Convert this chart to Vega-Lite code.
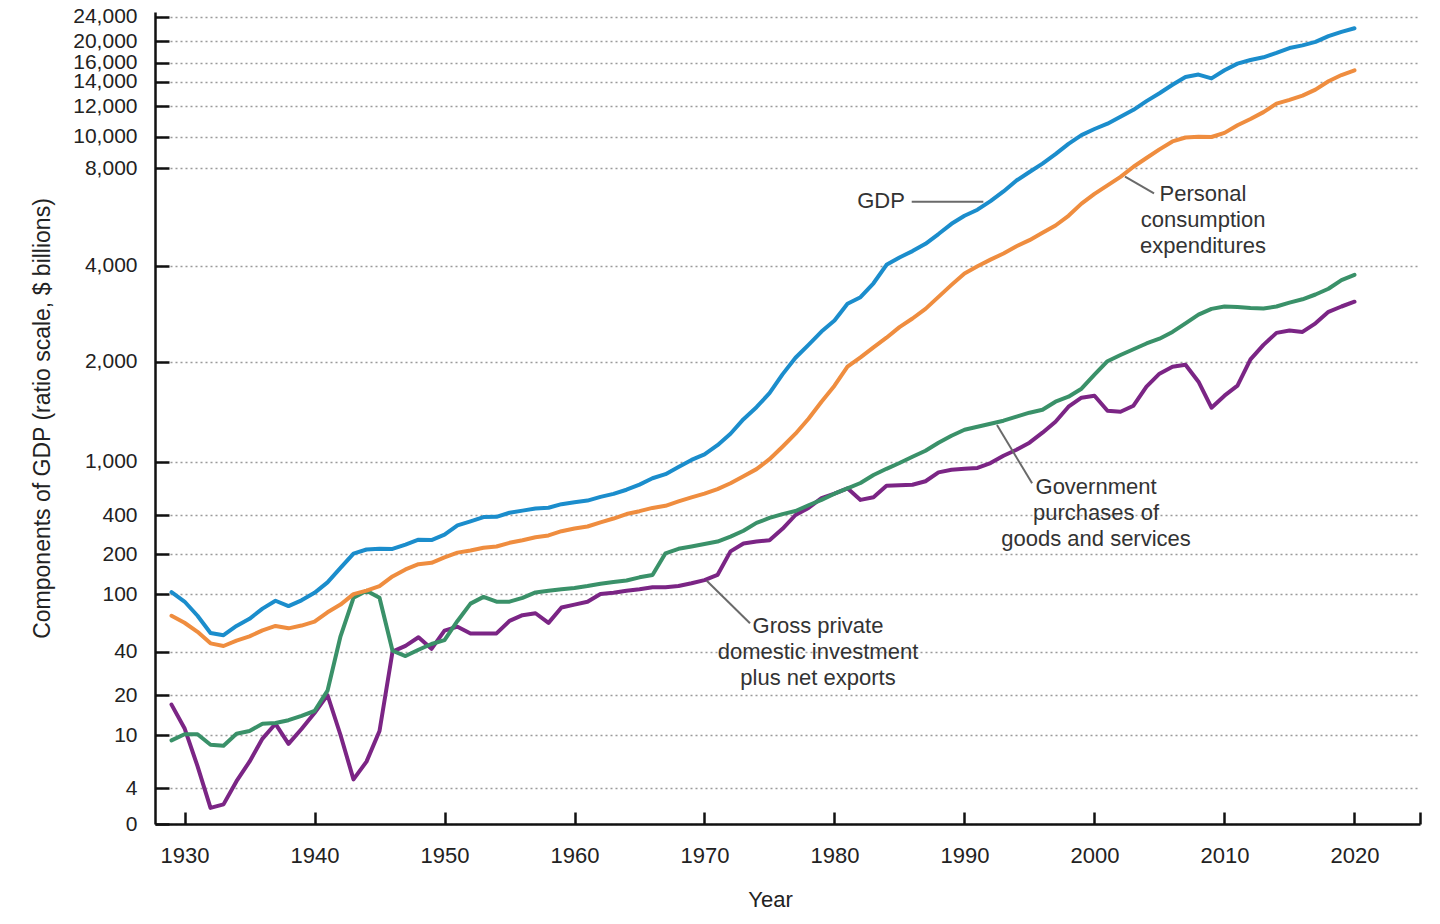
{
  "$schema": "https://vega.github.io/schema/vega-lite/v6.json",
  "autosize": {"type": "none"},
  "width": 1265,
  "height": 812,
  "padding": {"left": 155, "top": 12, "right": 20, "bottom": 100},
  "background": "white",
  "config": {"view": {"stroke": null}, "font": "Liberation Sans"},
  "datasets": {
    "gdp": [
      {"year":1929,"value":104.6},{"year":1930,"value":92.2},{"year":1931,"value":77.4},{"year":1932,"value":59.5},{"year":1933,"value":57.2},{"year":1934,"value":66.8},{"year":1935,"value":74.2},{"year":1936,"value":84.8},{"year":1937,"value":93.0},{"year":1938,"value":87.4},{"year":1939,"value":93.4},{"year":1940,"value":102.9},{"year":1941,"value":129.3},{"year":1942,"value":166.0},{"year":1943,"value":203.1},{"year":1944,"value":224.4},{"year":1945,"value":228.0},{"year":1946,"value":227.5},{"year":1947,"value":249.6},{"year":1948,"value":274.5},{"year":1949,"value":272.5},{"year":1950,"value":299.8},{"year":1951,"value":346.9},{"year":1952,"value":367.3},{"year":1953,"value":389.2},{"year":1954,"value":390.5},{"year":1955,"value":425.5},{"year":1956,"value":449.4},{"year":1957,"value":474.0},{"year":1958,"value":481.2},{"year":1959,"value":521.7},{"year":1960,"value":542.4},{"year":1961,"value":562.2},{"year":1962,"value":603.9},{"year":1963,"value":637.5},{"year":1964,"value":684.5},{"year":1965,"value":742.3},{"year":1966,"value":813.4},{"year":1967,"value":860.0},{"year":1968,"value":940.7},{"year":1969,"value":1017.6},{"year":1970,"value":1073.3},{"year":1971,"value":1164.9},{"year":1972,"value":1279.1},{"year":1973,"value":1425.4},{"year":1974,"value":1545.2},{"year":1975,"value":1684.9},{"year":1976,"value":1873.4},{"year":1977,"value":2081.8},{"year":1978,"value":2351.6},{"year":1979,"value":2627.3},{"year":1980,"value":2857.3},{"year":1981,"value":3207.0},{"year":1982,"value":3343.8},{"year":1983,"value":3634.0},{"year":1984,"value":4037.6},{"year":1985,"value":4339.0},{"year":1986,"value":4600},{"year":1987,"value":4900},{"year":1988,"value":5300},{"year":1989,"value":5720},{"year":1990,"value":6050},{"year":1991,"value":6300},{"year":1992,"value":6650},{"year":1993,"value":7050},{"year":1994,"value":7500},{"year":1995,"value":7850},{"year":1996,"value":8300},{"year":1997,"value":8900},{"year":1998,"value":9550},{"year":1999,"value":10100},{"year":2000,"value":10500},{"year":2001,"value":10850},{"year":2002,"value":11300},{"year":2003,"value":11750},{"year":2004,"value":12400},{"year":2005,"value":13050},{"year":2006,"value":13750},{"year":2007,"value":14500},{"year":2008,"value":14750},{"year":2009,"value":14350},{"year":2010,"value":15200},{"year":2011,"value":15900},{"year":2012,"value":16500},{"year":2013,"value":17000},{"year":2014,"value":17800},{"year":2015,"value":18700},{"year":2016,"value":19200},{"year":2017,"value":19850},{"year":2018,"value":20800},{"year":2019,"value":21500},{"year":2020,"value":22100}
    ],
    "pce": [
      {"year":1929,"value":77.4},{"year":1930,"value":70.1},{"year":1931,"value":60.7},{"year":1932,"value":48.7},{"year":1933,"value":45.9},{"year":1934,"value":51.5},{"year":1935,"value":55.9},{"year":1936,"value":62.2},{"year":1937,"value":66.8},{"year":1938,"value":64.3},{"year":1939,"value":67.2},{"year":1940,"value":71.2},{"year":1941,"value":81.0},{"year":1942,"value":89.0},{"year":1943,"value":99.9},{"year":1944,"value":108.6},{"year":1945,"value":120.0},{"year":1946,"value":144.3},{"year":1947,"value":162.0},{"year":1948,"value":175.0},{"year":1949,"value":178.5},{"year":1950,"value":192.2},{"year":1951,"value":208.5},{"year":1952,"value":219.5},{"year":1953,"value":233.1},{"year":1954,"value":239.5},{"year":1955,"value":258.4},{"year":1956,"value":271.7},{"year":1957,"value":286.9},{"year":1958,"value":296.2},{"year":1959,"value":317.6},{"year":1960,"value":331.2},{"year":1961,"value":341.5},{"year":1962,"value":362.6},{"year":1963,"value":382.0},{"year":1964,"value":410.6},{"year":1965,"value":443.0},{"year":1966,"value":479.9},{"year":1967,"value":503.6},{"year":1968,"value":552.5},{"year":1969,"value":597.9},{"year":1970,"value":640.0},{"year":1971,"value":691.6},{"year":1972,"value":757.6},{"year":1973,"value":837.2},{"year":1974,"value":916.5},{"year":1975,"value":1025},{"year":1976,"value":1150},{"year":1977,"value":1280},{"year":1978,"value":1430},{"year":1979,"value":1600},{"year":1980,"value":1760},{"year":1981,"value":1950},{"year":1982,"value":2090},{"year":1983,"value":2300},{"year":1984,"value":2500},{"year":1985,"value":2720},{"year":1986,"value":2900},{"year":1987,"value":3100},{"year":1988,"value":3350},{"year":1989,"value":3600},{"year":1990,"value":3840},{"year":1991,"value":3990},{"year":1992,"value":4250},{"year":1993,"value":4500},{"year":1994,"value":4800},{"year":1995,"value":5050},{"year":1996,"value":5350},{"year":1997,"value":5650},{"year":1998,"value":6050},{"year":1999,"value":6550},{"year":2000,"value":6950},{"year":2001,"value":7300},{"year":2002,"value":7650},{"year":2003,"value":8100},{"year":2004,"value":8650},{"year":2005,"value":9200},{"year":2006,"value":9700},{"year":2007,"value":9950},{"year":2008,"value":10000},{"year":2009,"value":9980},{"year":2010,"value":10250},{"year":2011,"value":10750},{"year":2012,"value":11150},{"year":2013,"value":11600},{"year":2014,"value":12200},{"year":2015,"value":12500},{"year":2016,"value":12850},{"year":2017,"value":13350},{"year":2018,"value":14050},{"year":2019,"value":14700},{"year":2020,"value":15200}
    ],
    "gov": [
      {"year":1929,"value":9.4},{"year":1930,"value":10.2},{"year":1931,"value":10.2},{"year":1932,"value":8.9},{"year":1933,"value":8.8},{"year":1934,"value":10.3},{"year":1935,"value":11.0},{"year":1936,"value":12.8},{"year":1937,"value":13.0},{"year":1938,"value":13.7},{"year":1939,"value":14.8},{"year":1940,"value":16.0},{"year":1941,"value":22.0},{"year":1942,"value":56.0},{"year":1943,"value":96.0},{"year":1944,"value":108.0},{"year":1945,"value":96.0},{"year":1946,"value":41.0},{"year":1947,"value":38.0},{"year":1948,"value":42.0},{"year":1949,"value":48.0},{"year":1950,"value":52.0},{"year":1951,"value":72.0},{"year":1952,"value":90.0},{"year":1953,"value":97.0},{"year":1954,"value":92.0},{"year":1955,"value":92.0},{"year":1956,"value":96.0},{"year":1957,"value":104.0},{"year":1958,"value":108.0},{"year":1959,"value":112.0},{"year":1960,"value":115.0},{"year":1961,"value":120.0},{"year":1962,"value":126.0},{"year":1963,"value":130.0},{"year":1964,"value":134.0},{"year":1965,"value":142.0},{"year":1966,"value":148.0},{"year":1967,"value":205.0},{"year":1968,"value":228.0},{"year":1969,"value":240.0},{"year":1970,"value":252.0},{"year":1971,"value":265.0},{"year":1972,"value":290.0},{"year":1973,"value":320.0},{"year":1974,"value":360.0},{"year":1975,"value":385.0},{"year":1976,"value":410.0},{"year":1977,"value":445.0},{"year":1978,"value":510.0},{"year":1979,"value":570.0},{"year":1980,"value":640.0},{"year":1981,"value":700.0},{"year":1982,"value":760.0},{"year":1983,"value":850.0},{"year":1984,"value":920.0},{"year":1985,"value":985.0},{"year":1986,"value":1050},{"year":1987,"value":1110},{"year":1988,"value":1190},{"year":1989,"value":1260},{"year":1990,"value":1320},{"year":1991,"value":1350},{"year":1992,"value":1380},{"year":1993,"value":1410},{"year":1994,"value":1450},{"year":1995,"value":1490},{"year":1996,"value":1520},{"year":1997,"value":1600},{"year":1998,"value":1650},{"year":1999,"value":1730},{"year":2000,"value":1870},{"year":2001,"value":2010},{"year":2002,"value":2140},{"year":2003,"value":2260},{"year":2004,"value":2380},{"year":2005,"value":2480},{"year":2006,"value":2620},{"year":2007,"value":2800},{"year":2008,"value":2980},{"year":2009,"value":3100},{"year":2010,"value":3150},{"year":2011,"value":3140},{"year":2012,"value":3120},{"year":2013,"value":3110},{"year":2014,"value":3150},{"year":2015,"value":3230},{"year":2016,"value":3300},{"year":2017,"value":3400},{"year":2018,"value":3520},{"year":2019,"value":3700},{"year":2020,"value":3810}
    ],
    "inv": [
      {"year":1929,"value":17.6},{"year":1930,"value":11.7},{"year":1931,"value":6.5},{"year":1932,"value":1.8},{"year":1933,"value":2.2},{"year":1934,"value":4.8},{"year":1935,"value":7.0},{"year":1936,"value":9.6},{"year":1937,"value":12.8},{"year":1938,"value":9.0},{"year":1939,"value":11.5},{"year":1940,"value":15.5},{"year":1941,"value":20.0},{"year":1942,"value":10.0},{"year":1943,"value":5.0},{"year":1944,"value":7.0},{"year":1945,"value":11.0},{"year":1946,"value":40.0},{"year":1947,"value":46.0},{"year":1948,"value":55.0},{"year":1949,"value":43.0},{"year":1950,"value":62.0},{"year":1951,"value":66.0},{"year":1952,"value":59.0},{"year":1953,"value":59.0},{"year":1954,"value":59.0},{"year":1955,"value":72.0},{"year":1956,"value":78.0},{"year":1957,"value":80.0},{"year":1958,"value":70.0},{"year":1959,"value":86.0},{"year":1960,"value":89.0},{"year":1961,"value":92.0},{"year":1962,"value":100.0},{"year":1963,"value":103.0},{"year":1964,"value":108.0},{"year":1965,"value":112.0},{"year":1966,"value":117.0},{"year":1967,"value":117.0},{"year":1968,"value":120.0},{"year":1969,"value":127.0},{"year":1970,"value":135.0},{"year":1971,"value":148.0},{"year":1972,"value":215.0},{"year":1973,"value":255.0},{"year":1974,"value":265.0},{"year":1975,"value":272.0},{"year":1976,"value":330.0},{"year":1977,"value":400.0},{"year":1978,"value":480.0},{"year":1979,"value":590.0},{"year":1980,"value":640.0},{"year":1981,"value":700.0},{"year":1982,"value":570.0},{"year":1983,"value":600.0},{"year":1984,"value":730.0},{"year":1985,"value":735.0},{"year":1986,"value":740.0},{"year":1987,"value":780.0},{"year":1988,"value":880.0},{"year":1989,"value":910.0},{"year":1990,"value":920.0},{"year":1991,"value":930.0},{"year":1992,"value":985.0},{"year":1993,"value":1060},{"year":1994,"value":1120},{"year":1995,"value":1190},{"year":1996,"value":1290},{"year":1997,"value":1400},{"year":1998,"value":1550},{"year":1999,"value":1640},{"year":2000,"value":1660},{"year":2001,"value":1510},{"year":2002,"value":1500},{"year":2003,"value":1560},{"year":2004,"value":1750},{"year":2005,"value":1880},{"year":2006,"value":1950},{"year":2007,"value":1970},{"year":2008,"value":1800},{"year":2009,"value":1540},{"year":2010,"value":1660},{"year":2011,"value":1760},{"year":2012,"value":2050},{"year":2013,"value":2350},{"year":2014,"value":2600},{"year":2015,"value":2650},{"year":2016,"value":2620},{"year":2017,"value":2800},{"year":2018,"value":3040},{"year":2019,"value":3150},{"year":2020,"value":3250}
    ],
    "leaders": [
      {"year":1985.94,"value":6630,"year2":1991.45,"value2":6630},
      {"year":2002.35,"value":7655,"year2":2004.58,"value2":6973},
      {"year":1992.5,"value":1367,"year2":1995.2,"value2":757},
      {"year":1970.17,"value":133.5,"year2":1973.5,"value2":69.5}
    ],
    "labels": [
      {"year":1983.58,"value":6390,"label":"GDP"},
      {"year":2008.35,"value":6657,"label":"Personal\nconsumption\nexpenditures"},
      {"year":2000.12,"value":631,"label":"Government\npurchases of\ngoods and services"},
      {"year":1978.73,"value":59.4,"label":"Gross private\ndomestic investment\nplus net exports"}
    ]
  },
  "layer": [
    {
      "data": {"name": "inv"},
      "mark": {"type": "line", "color": "#7b2585", "strokeWidth": 4, "strokeJoin": "round", "strokeCap": "round"},
      "encoding": {
        "x": {
          "field": "year", "type": "quantitative",
          "scale": {"domain": [1927.73, 2025.04], "nice": false, "zero": false},
          "axis": {
            "values": [1930,1940,1950,1960,1970,1980,1990,2000,2010,2020,2025.04],
            "labelExpr": "datum.value > 2021 ? '' : datum.value",
            "title": "Year",
            "titleFont": "Liberation Sans", "titleFontSize": 22, "titleFontWeight": "normal", "titleColor": "#222",
            "titlePadding": 23, "titleX": 615,
            "labelFont": "Liberation Sans", "labelFontSize": 22, "labelColor": "#222",
            "labelPadding": 33, "labelFlush": false, "labelOverlap": false,
            "tickSize": -12, "tickWidth": 2.5, "tickColor": "#111",
            "domainColor": "#111", "domainWidth": 2.5, "grid": false
          }
        },
        "y": {
          "field": "value", "type": "quantitative",
          "scale": {
            "domain": [0,4,10,20,40,100,200,400,1000,2000,4000,8000,10000,12000,14000,16000,20000,24000,25000],
            "range": [812,776.3,723,683,639.7,582,542.3,503,449.7,349.7,253.7,156.3,124.7,94,69.7,50.7,29,4.7,0],
            "nice": false, "zero": false
          },
          "axis": {
            "values": [0,4,10,20,40,100,200,400,1000,2000,4000,8000,10000,12000,14000,16000,20000,24000],
            "format": ",d",
            "title": "Components of GDP (ratio scale, $ billions)",
            "titleFont": "Liberation Sans", "titleFontSize": 23, "titleFontWeight": "normal", "titleColor": "#222",
            "titlePadding": 18,
            "labelFont": "Liberation Sans", "labelFontSize": 21, "labelColor": "#222",
            "labelPadding": 32, "labelOverlap": false,
            "tickSize": -14, "tickWidth": 2.5, "tickColor": "#111",
            "domainColor": "#111", "domainWidth": 2.5,
            "grid": true, "gridColor": "#9a9a9a", "gridDash": [2, 3], "gridWidth": 1.5
          }
        }
      }
    },
    {
      "data": {"name": "gov"},
      "mark": {"type": "line", "color": "#3a9169", "strokeWidth": 4, "strokeJoin": "round", "strokeCap": "round"},
      "encoding": {
        "x": {"field": "year", "type": "quantitative"},
        "y": {"field": "value", "type": "quantitative"}
      }
    },
    {
      "data": {"name": "pce"},
      "mark": {"type": "line", "color": "#ef8d3f", "strokeWidth": 4, "strokeJoin": "round", "strokeCap": "round"},
      "encoding": {
        "x": {"field": "year", "type": "quantitative"},
        "y": {"field": "value", "type": "quantitative"}
      }
    },
    {
      "data": {"name": "gdp"},
      "mark": {"type": "line", "color": "#1b8dcc", "strokeWidth": 4, "strokeJoin": "round", "strokeCap": "round"},
      "encoding": {
        "x": {"field": "year", "type": "quantitative"},
        "y": {"field": "value", "type": "quantitative"}
      }
    },
    {
      "data": {"name": "leaders"},
      "mark": {"type": "rule", "color": "#6a6a6a", "strokeWidth": 2},
      "encoding": {
        "x": {"field": "year", "type": "quantitative"},
        "y": {"field": "value", "type": "quantitative"},
        "x2": {"field": "year2"},
        "y2": {"field": "value2"}
      }
    },
    {
      "data": {"name": "labels"},
      "mark": {"type": "text", "font": "Liberation Sans", "fontSize": 22, "color": "#333", "align": "center", "baseline": "alphabetic", "lineBreak": "\n", "lineHeight": 26},
      "encoding": {
        "x": {"field": "year", "type": "quantitative"},
        "y": {"field": "value", "type": "quantitative"},
        "text": {"field": "label"}
      }
    }
  ]
}
